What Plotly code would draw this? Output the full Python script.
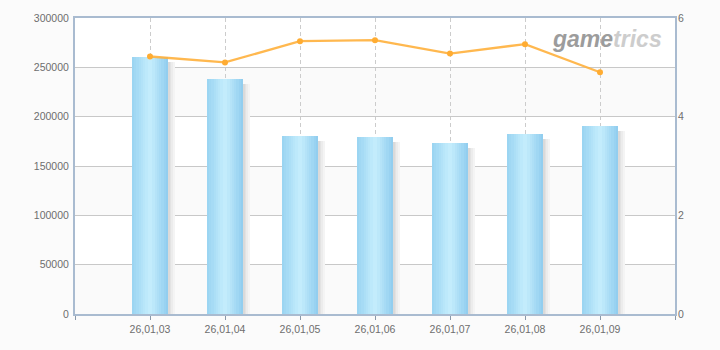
import plotly.graph_objects as go

categories = ["26,01,03", "26,01,04", "26,01,05", "26,01,06", "26,01,07", "26,01,08", "26,01,09"]
bar_values = [260500, 238200, 180400, 179400, 173300, 182400, 190500]
line_values = [5.22, 5.10, 5.53, 5.55, 5.28, 5.47, 4.90]
y_ticks = [0, 50000, 100000, 150000, 200000, 250000, 300000]
y2_ticks = [0, 2, 4, 6]

xs = list(range(len(categories)))

fig = go.Figure()

# gradient bar made of narrow strips
BAR_W = 0.49
N = 16
def lerp(c1, c2, t):
    return "rgb(%d,%d,%d)" % tuple(round(a + (b - a) * t) for a, b in zip(c1, c2))
edge_l = (152, 211, 241)
center = (198, 238, 253)
edge_r = (143, 204, 238)
for i in range(N):
    t = (i + 0.5) / N
    if t < 0.5:
        col = lerp(edge_l, center, t / 0.5)
    else:
        col = lerp(center, edge_r, (t - 0.5) / 0.5)
    fig.add_trace(go.Bar(
        x=xs, y=bar_values, width=[BAR_W / N * 1.05] * len(xs),
        offset=-BAR_W / 2 + i * BAR_W / N,
        marker=dict(color=col, line=dict(width=0)),
        showlegend=False, hoverinfo="skip", yaxis="y"))

# soft shadow strips to the right
shadow_cols = ["rgb(218,218,218)", "rgb(227,227,227)", "rgb(236,236,236)", "rgb(244,244,244)"]
SW = 0.022
shadow_vals = [v - 5000 for v in bar_values]
for i, c in enumerate(shadow_cols):
    fig.add_trace(go.Bar(
        x=xs, y=shadow_vals, width=[SW] * len(xs),
        offset=BAR_W / 2 + i * SW,
        marker=dict(color=c, line=dict(width=0)),
        showlegend=False, hoverinfo="skip", yaxis="y"))

fig.add_trace(go.Scatter(
    x=xs, y=line_values, mode="lines+markers", yaxis="y2",
    line=dict(color="rgba(255,176,60,0.9)", width=2.3),
    marker=dict(color="rgb(255,172,50)", size=6),
    showlegend=False, hoverinfo="skip"))

# alternating bands
shapes = []
for lo in (0, 100000, 200000):
    shapes.append(dict(type="rect", xref="x", yref="y", x0=-1, x1=7, y0=lo, y1=lo + 50000,
                       fillcolor="#fafafa", line=dict(width=0), layer="below"))

axis_col = "#a9bbd0"
tick_font = dict(family="Liberation Sans, Arial, sans-serif", size=10.5, color="#6e6e6e")

fig.update_layout(
    width=720, height=350,
    margin=dict(l=75, r=45, t=18, b=36),
    paper_bgcolor="#fbfbfb", plot_bgcolor="#ffffff",
    barmode="overlay", bargap=0,
    shapes=shapes,
    xaxis=dict(range=[-1, 7], tickvals=[-1] + xs + [7], ticktext=[""] + categories + [""],
               showgrid=True, gridcolor="#cccccc", griddash="4px,3px", gridwidth=1,
               showline=True, linecolor=axis_col, linewidth=2, mirror=True,
               ticks="outside", ticklen=4, tickcolor="#8a98a8", tickfont=tick_font,
               zeroline=False, fixedrange=True),
    yaxis=dict(range=[0, 300000], tickvals=y_ticks, ticktext=[str(v) for v in y_ticks],
               showgrid=True, gridcolor="#c8c8c8", gridwidth=1,
               showline=True, linecolor=axis_col, linewidth=2, mirror=True,
               ticks="", tickfont=tick_font, zeroline=False, ticklabelstandoff=2),
    yaxis2=dict(range=[0, 6], tickvals=y2_ticks, overlaying="y", side="right",
                showgrid=False, showline=False, ticks="", tickfont=tick_font,
                zeroline=False, ticklabelstandoff=2),
    annotations=[
        dict(xref="paper", yref="paper", x=0.982, y=0.93, xanchor="right", yanchor="middle",
             text="<b><i><span style='color:#9c9c9c'>game</span><span style='color:#cdcdcd'>trics</span></i></b>",
             showarrow=False, font=dict(family="Liberation Sans, Arial, sans-serif", size=23)),
    ],
)

fig.write_html("out.html")
